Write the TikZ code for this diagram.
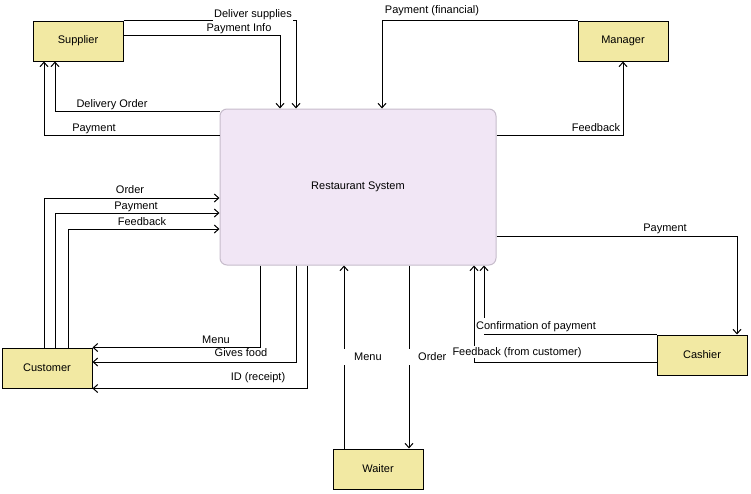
\documentclass[tikz,border=0pt]{standalone}
\usepackage{fontspec}
\setmainfont{Liberation Sans}
\usepackage{tikz}
\usetikzlibrary{arrows.meta}
\usetikzlibrary{positioning}

\definecolor{entfill}{HTML}{F2E9A3}
\definecolor{sysfill}{HTML}{F1E6F5}
\definecolor{sysdraw}{HTML}{C6BCCB}

\tikzset{
  entity/.style={draw=black, fill=entfill, line width=1pt,
      minimum width=90pt, minimum height=40pt, inner sep=0pt,
      font=\fontsize{11}{13}\selectfont},
  process/.style={draw=sysdraw, fill=sysfill, line width=1pt, rounded corners=7pt,
      minimum width=276pt, minimum height=156pt, inner sep=0pt,
      font=\fontsize{11}{13}\selectfont},
  flow/.style={draw=black, line width=1pt, -{Straight Barb[length=4.5pt,width=8pt]}},
  lbl/.style={font=\fontsize{11}{13}\selectfont, inner sep=1pt,
      text height=8pt, text depth=2pt},
  gaplbl/.style={lbl, fill=white}
}

\begin{document}
\begin{tikzpicture}[x=1pt,y=-1pt]
  \useasboundingbox (0,0) rectangle (751,493);

  % entities and process
  \node[process] (sys)  at (358,187)  {Restaurant System};
  \node[entity]  (sup)  at (78,41)    {Supplier};
  \node[entity]  (mgr)  at (623,41)   {Manager};
  \node[entity]  (cust) at (47,368)   {Customer};
  \node[entity]  (wtr)  at (378,469)  {Waiter};
  \node[entity]  (cash) at (702,355)  {Cashier};

  % supplier
  \draw[flow] (sup.north east) -| (sys.north -| 296,0);
  \draw[flow] (sup.east |- 0,35) -| (sys.north -| 280,0);
  \draw[flow] (sys.west |- 0,111) -| (sup.south -| 55,0);
  \draw[flow] (sys.west |- 0,135) -| (sup.south -| 44,0);
  \node[gaplbl, inner ysep=3pt] (l_deliver) at (253,14)  {Deliver supplies};
  \node[lbl] (l_payinfo)  at (239,28)  {Payment Info};
  \node[lbl] (l_delorder) at (112,104) {Delivery Order};
  \node[lbl] (l_paysup)   at (94,128)  {Payment};

  % manager
  \draw[flow] (mgr.north west) -| (sys.north -| 382,0);
  \draw[flow] (sys.east |- 0,135) -| (mgr.south);
  \node[lbl] (l_payfin) at (432,10)  {Payment (financial)};
  \node[lbl] (l_fbmgr)  at (596,128) {Feedback};

  % customer
  \draw[flow] (cust.north -| 44,0) |- (sys.west |- 0,198);
  \draw[flow] (cust.north -| 55,0) |- (sys.west |- 0,213);
  \draw[flow] (cust.north -| 68,0) |- (sys.west |- 0,229);
  \draw[flow] (sys.south -| 260,0) |- (cust.north east);
  \draw[flow] (sys.south -| 296,0) |- (cust.east |- 0,362);
  \draw[flow] (sys.south -| 307,0) |- (cust.south east);
  \node[lbl] (l_order)   at (130,190) {Order};
  \node[lbl] (l_paycust) at (136,206) {Payment};
  \node[lbl] (l_fbcust)  at (142,222) {Feedback};
  \node[lbl] (l_menuc)   at (216,340) {Menu};
  \node[lbl] (l_food)    at (241,353) {Gives food};
  \node[lbl] (l_id)      at (258,377) {ID (receipt)};

  % waiter
  \draw[flow] (wtr.north -| 344,0) -- (sys.south -| 344,0);
  \draw[flow] (sys.south -| 409,0) -- (wtr.north -| 409,0);
  \node[gaplbl, anchor=west, inner xsep=14pt, inner ysep=3pt] (l_menuw)  at (340,357) {Menu};
  \node[gaplbl, anchor=west, inner xsep=13pt, inner ysep=3pt] (l_orderw) at (405,357) {Order};

  % cashier
  \draw[flow] (sys.east |- 0,236) -| (cash.north -| 737,0);
  \draw[flow] (cash.north west) -| (sys.south -| 484,0);
  \draw[flow] (cash.west |- 0,362) -| (sys.south -| 474,0);
  \node[lbl] (l_paycash) at (665,228) {Payment};
  \node[gaplbl, inner ysep=3pt] (l_confirm) at (536,326) {Confirmation of payment};
  \node[gaplbl, inner ysep=1pt] (l_fbfrom)  at (517,352) {Feedback (from customer)};
\end{tikzpicture}
\end{document}
